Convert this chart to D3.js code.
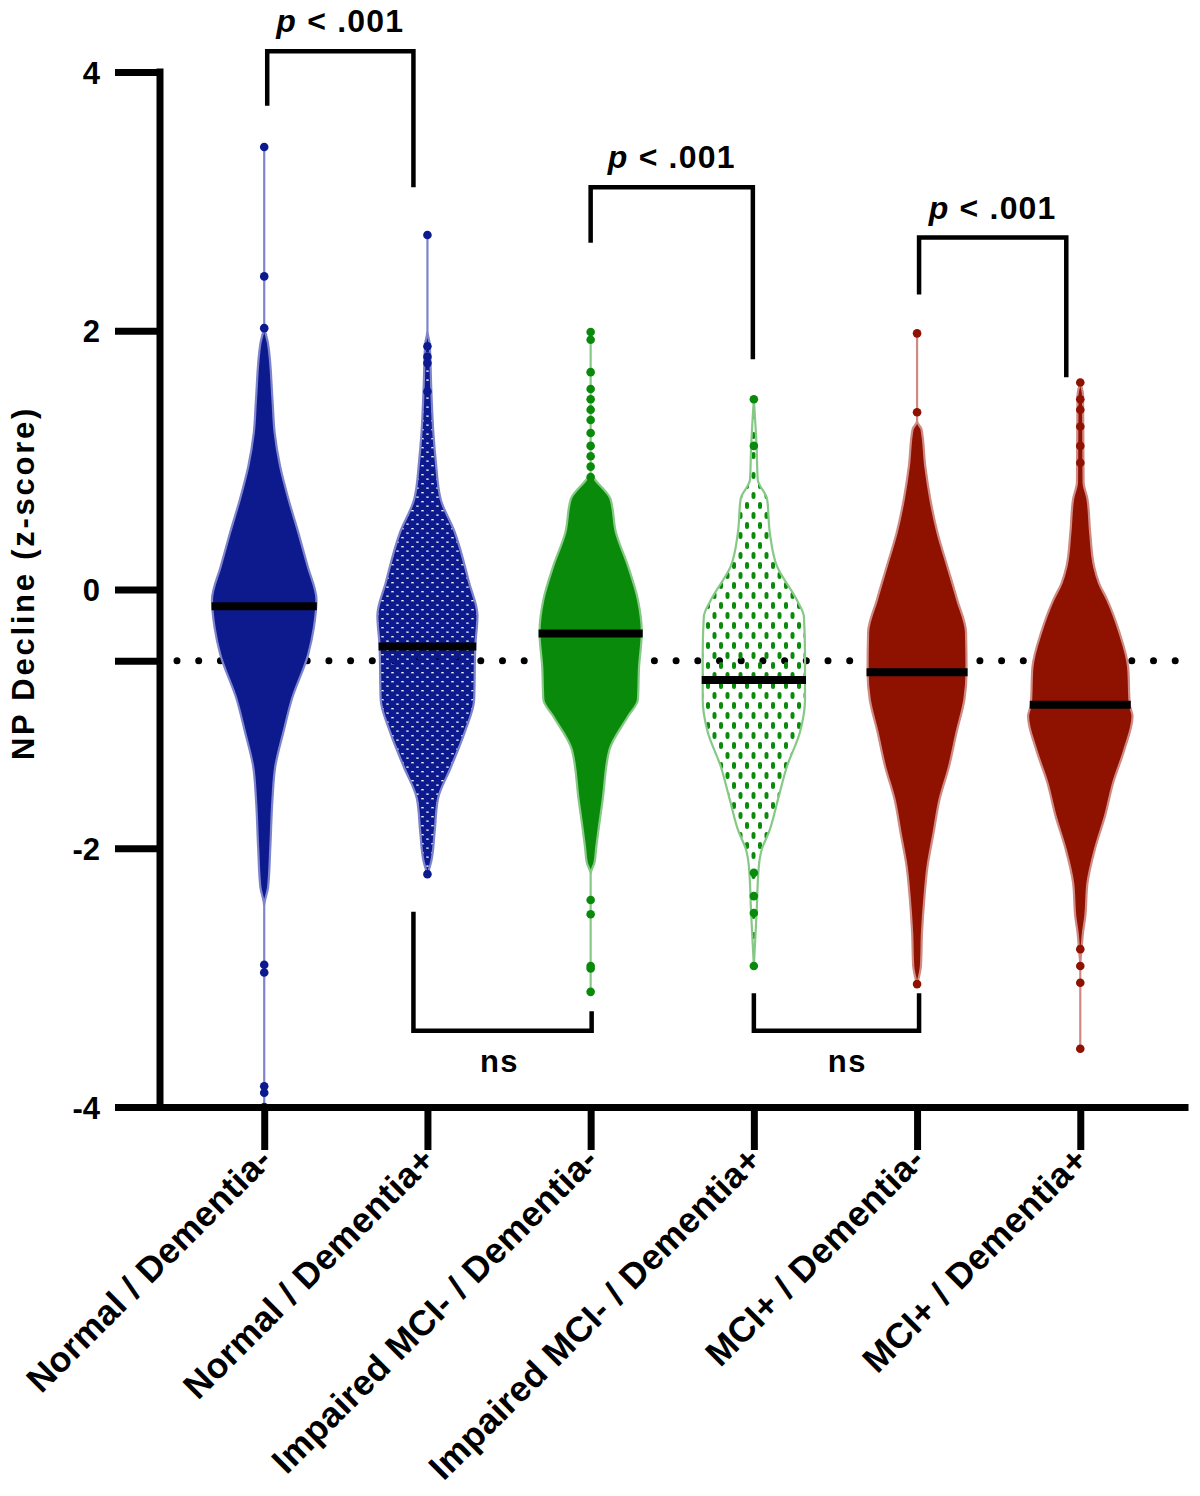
<!DOCTYPE html>
<html><head><meta charset="utf-8">
<script src="https://cdn.jsdelivr.net/npm/d3@7"></script>
<style>
html,body{margin:0;padding:0;background:#fff;}
svg{display:block;}
text{font-family:"Liberation Sans",Arial,Helvetica,sans-serif;font-weight:bold;fill:#000;}
</style></head><body>
<svg id="chart" width="1200" height="1496"></svg>
<script>
// ---------------- DATA ----------------
const categories = ["Normal / Dementia-","Normal / Dementia+","Impaired MCI- / Dementia-","Impaired MCI- / Dementia+","MCI+ / Dementia-","MCI+ / Dementia+"];
const medians = [-0.13, -0.44, -0.34, -0.70, -0.64, -0.89];
const referenceLine = -0.55;
const yTickValues = [4, 2, 0, -2, -4];
const yTickLabels = ["4", "2", "0", "-2", "-4"];

// violin profiles: [z-score, relative density]
const densityNormalDemNeg = [[3.42,0],[2.05,0],[1.9,0.07],[1.47,0.15],[1.21,0.19],[0.95,0.29],[0.7,0.44],[0.44,0.62],[0.18,0.79],[-0.08,0.95],[-0.3,0.9],[-0.5,0.8],[-0.85,0.5],[-1.1,0.35],[-1.37,0.2],[-1.62,0.15],[-2.0,0.11],[-2.3,0.07],[-2.45,0],[-4.0,0]];
const densityNormalDemPos = [[2.74,0],[2.0,0],[1.9,0.04],[1.55,0.07],[1.2,0.11],[1.0,0.15],[0.7,0.24],[0.44,0.5],[0.05,0.76],[-0.2,0.91],[-0.44,0.87],[-0.85,0.85],[-1.1,0.68],[-1.37,0.43],[-1.62,0.19],[-1.88,0.13],[-2.1,0.07],[-2.2,0]];
const densityImpairedDemNeg = [[1.99,0],[0.9,0],[0.85,0.08],[0.7,0.36],[0.44,0.46],[0.18,0.68],[-0.08,0.86],[-0.33,0.93],[-0.6,0.88],[-0.85,0.86],[-0.98,0.68],[-1.24,0.34],[-1.62,0.22],[-2.0,0.1],[-2.11,0.07],[-2.2,0],[-3.13,0]];
const densityImpairedDemPos = [[1.47,0],[1.1,0.05],[0.85,0.07],[0.7,0.24],[0.44,0.29],[0.18,0.42],[-0.08,0.78],[-0.21,0.91],[-0.5,0.93],[-0.85,0.93],[-1.1,0.84],[-1.37,0.6],[-1.62,0.44],[-1.88,0.27],[-2.0,0.15],[-2.14,0.09],[-2.5,0.05],[-2.91,0]];
const densityMciDemNeg = [[1.98,0],[1.3,0],[1.24,0.08],[0.95,0.15],[0.7,0.24],[0.44,0.37],[0.18,0.55],[-0.08,0.73],[-0.33,0.89],[-0.64,0.9],[-0.85,0.86],[-1.1,0.72],[-1.37,0.58],[-1.62,0.41],[-1.88,0.3],[-2.14,0.19],[-2.4,0.13],[-2.65,0.09],[-2.91,0.07],[-3.05,0]];
const densityMciDemPos = [[1.6,0],[1.5,0.05],[0.83,0.06],[0.7,0.13],[0.44,0.18],[0.18,0.25],[0.05,0.34],[-0.08,0.49],[-0.33,0.71],[-0.6,0.87],[-0.89,0.9],[-0.98,0.95],[-1.24,0.8],[-1.49,0.6],[-1.75,0.45],[-2.0,0.27],[-2.27,0.13],[-2.53,0.09],[-2.65,0.05],[-2.8,0.02],[-2.9,0],[-3.55,0]];

// individually visible points in the tails
const pointsNormalDemNeg = [3.42, 2.42, 2.02, -2.9, -2.96, -3.84, -3.89, -4.0];
const pointsNormalDemPos = [2.74, 1.88, 1.8, 1.75, 1.53, -2.2];
const pointsImpairedDemNeg = [1.99, 1.93, 1.68, 1.55, 1.47, 1.39, 1.31, 1.21, 1.11, 1.03, 0.95, 0.87, -2.4, -2.51, -2.91, -2.93, -3.11];
const pointsImpairedDemPos = [1.47, 1.11, -2.19, -2.37, -2.5, -2.91];
const pointsMciDemNeg = [1.98, 1.37, -3.05];
const pointsMciDemPos = [1.6, 1.47, 1.39, 1.26, 1.11, 0.98, -2.78, -2.91, -3.04, -3.55];

const densities = [densityNormalDemNeg, densityNormalDemPos, densityImpairedDemNeg, densityImpairedDemPos, densityMciDemNeg, densityMciDemPos];
const tailPoints = [pointsNormalDemNeg, pointsNormalDemPos, pointsImpairedDemNeg, pointsImpairedDemPos, pointsMciDemNeg, pointsMciDemPos];

// significance annotations
const comparisonPairs = [[0, 1], [2, 3], [4, 5], [1, 2], [3, 4]];
const comparisonLabels = ["p < .001", "p < .001", "p < .001", "ns", "ns"];

// ---------------- LAYOUT / STYLE ----------------
// bracket geometry: [barZ, leftEndZ, rightEndZ, leftDx, rightDx, labelDx]
const bracketGeom = [
  [4.16, 3.74, 3.11, 3, -14, 0],
  [3.11, 2.68, 1.78, 0, -1, 0],
  [2.72, 2.28, 1.64, 2, -14, 0],
  [-3.41, -2.49, -3.26, -14, 1, -3],
  [-3.41, -3.12, -3.12, 0, 2, 11]
];
const fills = ["#0c1a8e","#0c1a8e","#0a8a0a","#0a8a0a","#8f1100","#8f1100"];
const outlines = ["#7d84cc","#7d84cc","#86c886","#86c886","#cf8a84","#cf8a84"];
const fillMode = ["solid","dots","solid","dashes","solid","solid"];

// ---------------- CHART ----------------
const svg = d3.select("#chart");
const y = d3.scaleLinear().domain([-4, 4]).range([1107, 72]);
const x = d3.scalePoint().domain(categories).range([156.5, 1188]).padding(0.66);
const w = d3.scaleLinear().domain([0, 1]).range([0, 55]);

const defs = svg.append("defs");
const pDots = defs.append("pattern").attr("id","pDots").attr("patternUnits","userSpaceOnUse").attr("width",10).attr("height",9);
[[2.5,2.2],[7.5,6.7],[-2.5,6.7],[12.5,2.2],[2.5,11.2],[7.5,-2.3]].forEach(p =>
  pDots.append("circle").attr("cx",p[0]).attr("cy",p[1]).attr("r",3.9).attr("fill",fills[1]));
const pDash = defs.append("pattern").attr("id","pDash").attr("patternUnits","userSpaceOnUse").attr("width",13).attr("height",20).attr("x",3);
pDash.append("rect").attr("x",1).attr("y",2).attr("width",4).attr("height",7).attr("rx",2).attr("fill",fills[3]);
pDash.append("rect").attr("x",7.5).attr("y",12).attr("width",4).attr("height",7).attr("rx",2).attr("fill",fills[3]);

// reference dotted line
svg.append("line")
  .attr("x1",177).attr("x2",1190)
  .attr("y1",y(referenceLine)).attr("y2",y(referenceLine))
  .attr("stroke","#000").attr("stroke-width",7)
  .attr("stroke-linecap","round").attr("stroke-dasharray","0 21.7");

// violins
categories.forEach((c,i) => {
  const cx = x(c);
  const area = d3.area().curve(d3.curveMonotoneY)
    .y(d => y(d[0])).x0(d => cx - w(d[1])).x1(d => cx + w(d[1]));
  const fill = fillMode[i] === "dots" ? "url(#pDots)" : fillMode[i] === "dashes" ? "url(#pDash)" : fills[i];
  svg.append("path").datum(densities[i])
    .attr("d", area)
    .attr("fill", fill)
    .attr("stroke", outlines[i])
    .attr("stroke-width", 2.2);
  svg.append("g").selectAll("circle").data(tailPoints[i]).join("circle")
    .attr("cx", cx).attr("cy", d => y(d)).attr("r", 4.3).attr("fill", fills[i]);
});

// median bars
function densityAt(profile, v){
  for (let k=0;k<profile.length-1;k++){
    const a=profile[k], b=profile[k+1];
    if (v<=a[0] && v>=b[0]){ const t=(a[0]-v)/(a[0]-b[0]); return a[1]+(b[1]-a[1])*t; }
  }
  return 0;
}
categories.forEach((c,i) => {
  const cx = x(c), hw = w(densityAt(densities[i], medians[i])) + 1;
  svg.append("line")
    .attr("x1", cx - hw).attr("x2", cx + hw)
    .attr("y1", y(medians[i])).attr("y2", y(medians[i]))
    .attr("stroke","#000").attr("stroke-width",8);
});

// y axis
const yAxis = d3.axisLeft(y)
  .tickValues(yTickValues.concat([referenceLine]))
  .tickFormat(d => { const k = yTickValues.indexOf(d); return k >= 0 ? yTickLabels[k] : ""; })
  .tickSize(45).tickSizeOuter(0).tickPadding(15);
const gy = svg.append("g").attr("transform","translate(160,0)").call(yAxis);
gy.select(".domain").attr("stroke","#000").attr("stroke-width",7).attr("d", `M0,${y(4)-3.5}V${y(-4)}`);
gy.selectAll(".tick line").attr("stroke","#000").attr("stroke-width",7);
gy.selectAll(".tick text").attr("font-size",31).attr("font-family","'Liberation Sans',Arial,sans-serif").attr("font-weight","bold").attr("fill","#000").attr("dy","0.36em");

// x axis
const xAxis = d3.axisBottom(x).tickSize(43).tickSizeOuter(0).tickPadding(0);
const gx = svg.append("g").attr("transform",`translate(0,${y(-4)})`).call(xAxis);
gx.select(".domain").attr("stroke","#000").attr("stroke-width",7);
gx.selectAll(".tick line").attr("stroke","#000").attr("stroke-width",7);
gx.selectAll(".tick text")
  .attr("font-size",35.5).attr("font-family","'Liberation Sans',Arial,sans-serif").attr("font-weight","bold").attr("fill","#000")
  .attr("letter-spacing",0.3)
  .attr("text-anchor","end").attr("x",0).attr("y",0).attr("dy",0)
  .attr("transform","translate(9,55) rotate(-45)");

// y title
svg.append("text")
  .attr("transform",`translate(34,${583}) rotate(-90)`)
  .attr("text-anchor","middle").attr("font-size",31).attr("letter-spacing",2.75)
  .text("NP Decline (z-score)");

// brackets
comparisonPairs.forEach(([a,b], k) => {
  const [barZ, lz, rz, dxa, dxb, ldx] = bracketGeom[k];
  const xa = x(categories[a]) + dxa, xb = x(categories[b]) + dxb;
  svg.append("path")
    .attr("d", `M${xa},${y(lz)}V${y(barZ)}H${xb}V${y(rz)}`)
    .attr("fill","none").attr("stroke","#000").attr("stroke-width",4.5);
  const mid = (xa + xb) / 2 + ldx;
  const label = comparisonLabels[k];
  if (label.startsWith("p")) {
    const t = svg.append("text").attr("x", mid).attr("y", y(barZ) - 19)
      .attr("text-anchor","middle").attr("font-size",32).attr("letter-spacing",1.2);
    t.append("tspan").attr("font-style","italic").text(label.slice(0,1));
    t.append("tspan").text(label.slice(1));
  } else {
    svg.append("text").attr("x", mid).attr("y", y(barZ) + 41)
      .attr("text-anchor","middle").attr("font-size",31).attr("letter-spacing",1.5).text(label);
  }
});
</script>
</body></html>
